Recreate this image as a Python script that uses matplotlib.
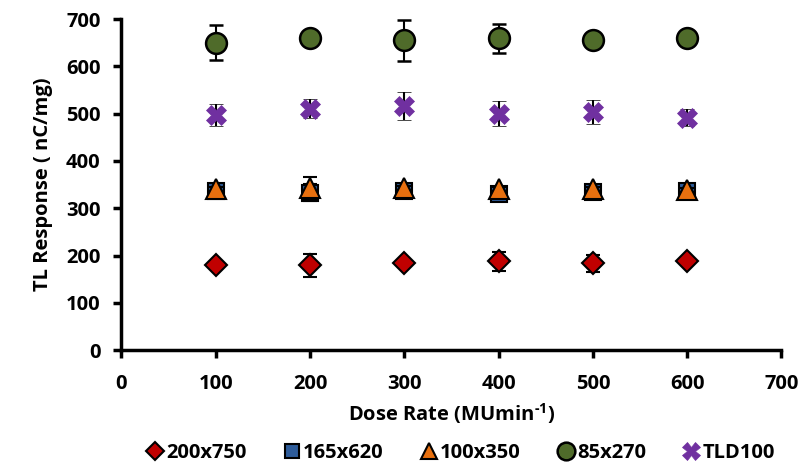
import matplotlib.pyplot as plt

# Data
dose_rate = [100, 200, 300, 400, 500, 600]

r_200x750 = [181, 179, 185, 188, 184, 189]
e_200x750 = [4, 25, 4, 20, 18, 4]

r_165x620 = [336, 333, 336, 330, 334, 336]
e_165x620 = [4, 18, 4, 6, 4, 4]

r_100x350 = [340, 343, 342, 341, 340, 339]
e_100x350 = [4, 24, 4, 4, 4, 4]

r_85x270 = [650, 660, 655, 659, 656, 660]
e_85x270 = [37, 10, 43, 31, 4, 4]

r_tld100 = [497, 510, 516, 500, 504, 491]
e_tld100 = [23, 20, 29, 27, 25, 18]

labels = ["200x750", "165x620", "100x350", "85x270", "TLD100"]

plt.rcParams["font.family"] = ["Open Sans", "DejaVu Sans"]
plt.rcParams["font.weight"] = "bold"
plt.rcParams["mathtext.fontset"] = "custom"
plt.rcParams["mathtext.rm"] = "Open Sans:bold"
plt.rcParams["mathtext.bf"] = "Open Sans:bold"

fig = plt.figure(figsize=(8.04, 4.65), dpi=100)
ax = fig.add_axes([0.151, 0.247, 0.821, 0.712])

err_kw = dict(ecolor="black", elinewidth=1.5, capsize=5, capthick=1.5, linestyle="none")

series = [
    (r_200x750, e_200x750, "D", 11, "#C00000", "black", 1.5, 3),
    (r_165x620, e_165x620, "s", 12, "#2E5C9A", "black", 1.5, 3),
    (r_100x350, e_100x350, "^", 14, "#E8700F", "black", 1.5, 4),
    (r_85x270, e_85x270, "o", 15, "#4F6B2A", "black", 1.8, 4),
    (r_tld100, e_tld100, "X", 15, "#7030A0", "#7030A0", 0.5, 4),
]

handles = []
for (vals, errs, mk, ms, fc, ec, ew, z), lab in zip(series, labels):
    cont = ax.errorbar(dose_rate, vals, yerr=errs, marker=mk, markersize=ms,
                       markerfacecolor=fc, markeredgecolor=ec, markeredgewidth=ew,
                       label=lab, zorder=z, **err_kw)
    handles.append(cont[0])

ax.set_xlim(0, 700)
ax.set_ylim(0, 700)
ax.set_xticks(range(0, 701, 100))
ax.set_yticks(range(0, 701, 100))

for side in ["top", "right"]:
    ax.spines[side].set_visible(False)
for side in ["left", "bottom"]:
    ax.spines[side].set_linewidth(2.5)
ax.tick_params(direction="out", length=6, width=2.5, labelsize=14.5, pad=9)
ax.tick_params(axis="x", pad=11)
for lab in ax.get_xticklabels() + ax.get_yticklabels():
    lab.set_fontweight("bold")

ax.set_xlabel("Dose Rate (MUmin$^{\\text{-1}}$)", fontsize=14.5, fontweight="bold", labelpad=5)
ax.set_ylabel("TL Response ( nC/mg)", fontsize=14.5, fontweight="bold", labelpad=9)

ax.legend(handles, labels, loc="upper center", bbox_to_anchor=(0.515, -0.225), ncol=5,
          frameon=False, handlelength=0.7, handletextpad=0.2, columnspacing=1.9,
          markerscale=0.85, prop={"weight": "bold", "size": 14.5})

fig.savefig("out.png", dpi=100)
